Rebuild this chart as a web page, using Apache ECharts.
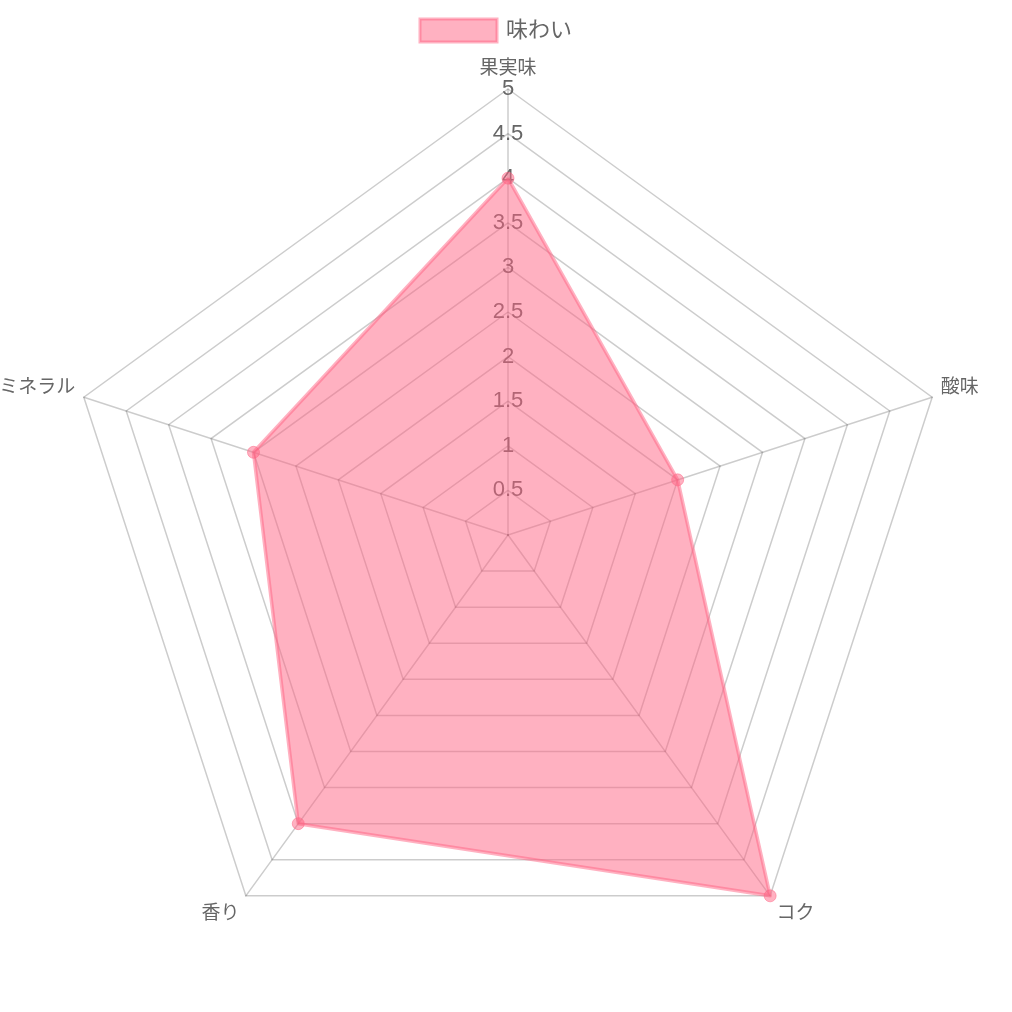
<!DOCTYPE html>
<html>
<head>
<meta charset="utf-8">
<script src="https://cdn.jsdelivr.net/npm/echarts@6/dist/echarts.min.js"></script>
<style>html,body{margin:0;padding:0;background:#fff}#c{width:1012px;height:1012px}</style>
</head>
<body>
<div id="c"></div>
<script>
// Data (indicators listed counter-clockwise from top, as ECharts lays them out)
const categories = ['果実味', 'ミネラル', '香り', 'コク', '酸味'];
const seriesName = '味わい';
const seriesValues = [4, 3, 4, 5, 2];
const axisMax = 5;
const tickLabels = ['', '0.5', '1', '1.5', '2', '2.5', '3', '3.5', '4', '4.5', '5'];

const FONT = '"Liberation Sans", "Noto Sans CJK JP", sans-serif';
const gridColor = 'rgba(0,0,0,0.2)';
const pinkFill = 'rgba(255,99,132,0.5)';

// label style key per indicator position (top / side / bottom)
const nameStyleKey = ['top', 'side', 'bottom', 'bottom', 'side'];

const chart = echarts.init(document.getElementById('c'));
chart.setOption({
  animation: false,
  legend: {
    left: 418.5,
    top: 17.5,
    padding: 0,
    icon: 'rect',
    itemWidth: 77,
    itemHeight: 23,
    itemGap: 10,
    textStyle: { color: '#666', fontSize: 22, fontFamily: FONT, padding: [0, 0, 0, 4] },
    data: [{ name: seriesName, itemStyle: { color: pinkFill, borderColor: pinkFill, borderWidth: 3 } }]
  },
  radar: {
    center: [508, 535],
    radius: 446,
    startAngle: 90,
    splitNumber: 10,
    shape: 'polygon',
    nameGap: 11,
    axisName: {
      color: '#666', fontSize: 19, fontFamily: FONT,
      formatter: (name) => '{' + nameStyleKey[categories.indexOf(name)] + '|' + name + '}',
      rich: {
        top: { color: '#666', fontSize: 19, fontFamily: FONT },
        side: { color: '#666', fontSize: 19, fontFamily: FONT, padding: [0, 0, 14, 0] },
        bottom: { color: '#666', fontSize: 19, fontFamily: FONT, padding: [18, 0, 0, 0] }
      }
    },
    splitArea: { show: false },
    splitLine: { lineStyle: { color: gridColor, width: 1.5 } },
    axisLine: { lineStyle: { color: gridColor, width: 1.5 } },
    axisTick: { show: false },
    axisLabel: { show: false },
    indicator: categories.map((name, i) => {
      const ind = { name: name, min: 0, max: axisMax };
      if (nameStyleKey[i] === 'side') ind.nameGap = 9;
      if (i === 0) {
        ind.axisLabel = {
          show: true,
          margin: 0,
          align: 'center',
          verticalAlign: 'middle',
          color: '#666',
          fontSize: 22,
          fontFamily: FONT,
          formatter: (v) => tickLabels[Math.round(v / 0.5)]
        };
      }
      return ind;
    })
  },
  series: [{
    type: 'radar',
    name: seriesName,
    symbol: 'circle',
    symbolSize: 12,
    itemStyle: { color: pinkFill, borderColor: pinkFill, borderWidth: 1 },
    lineStyle: { color: pinkFill, width: 3.5 },
    areaStyle: { color: pinkFill, opacity: 1 },
    data: [{ name: seriesName, value: seriesValues }]
  }]
});
</script>
</body>
</html>
